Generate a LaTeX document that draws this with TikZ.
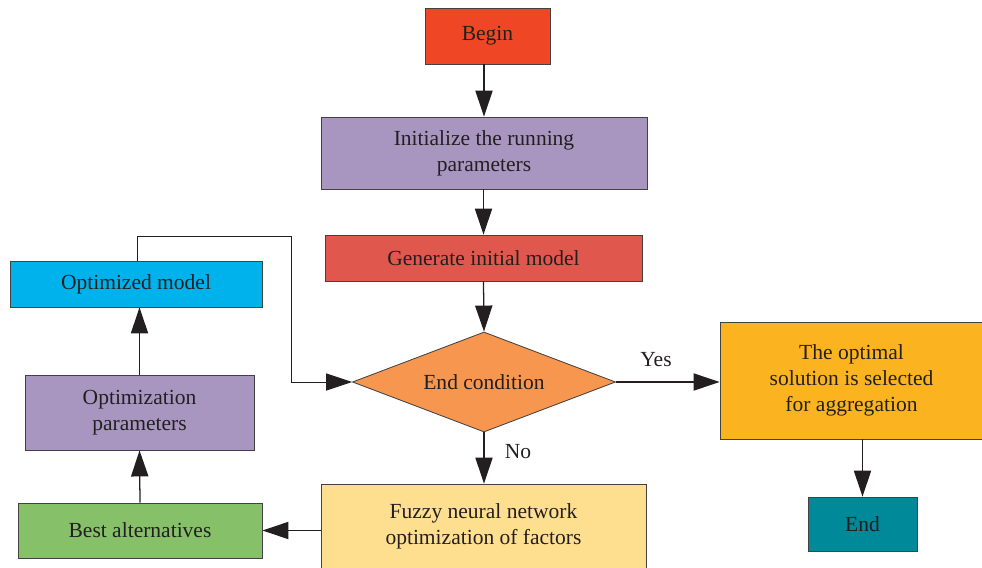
\documentclass[tikz,border=0pt]{standalone}
\usepackage{fontspec}
\setmainfont{Liberation Serif}
\usetikzlibrary{shapes.geometric,arrows.meta}
\definecolor{color1}{HTML}{EF4626}
\definecolor{color2}{HTML}{A896C0}
\definecolor{color3}{HTML}{E0574D}
\definecolor{color4}{HTML}{F7964F}
\definecolor{color5}{HTML}{FBB41F}
\definecolor{color6}{HTML}{008A99}
\definecolor{color7}{HTML}{FEDF90}
\definecolor{color8}{HTML}{86C16A}
\definecolor{color9}{HTML}{00B2EB}
\definecolor{ink}{HTML}{231F20}

\begin{document}
\begin{tikzpicture}[x=0.025cm,y=-0.025cm,
  box/.style={draw=ink!85,line width=0.6pt,text=ink,align=center,font=\fontsize{15.3}{18.4}\selectfont},
  arr/.style={draw=ink,line width=0.9pt,-{Triangle[length=0.65cm,width=0.43cm]}}]
\useasboundingbox (0,0) rectangle (982,567);

\node[box,fill=color1,minimum width=3.125cm,minimum height=1.4cm] (begin) at (487.5,36) {Begin};
\node[box,fill=color2,minimum width=8.15cm,minimum height=1.8cm] (init) at (484,153) {Initialize the running\\parameters};
\node[box,fill=color3,minimum width=7.925cm,minimum height=1.15cm] (gen) at (483.5,258) {Generate initial model};
\node[box,diamond,fill=color4,inner sep=0pt,aspect=2.6,minimum width=6.575cm,minimum height=2.5cm] (cond) at (484,382) {End condition};
\node[box,fill=color5,minimum width=6.575cm,minimum height=2.925cm] (opt) at (851.5,380.5) {The optimal\\solution is selected\\for aggregation};
\node[box,fill=color6,minimum width=2.725cm,minimum height=1.35cm] (end) at (862.5,524) {End};
\node[box,fill=color7,minimum width=8.125cm,minimum height=2.1cm] (fuzzy) at (483.5,526) {Fuzzy neural network\\optimization of factors};
\node[box,fill=color8,minimum width=6.1cm,minimum height=1.375cm] (best) at (140,530.5) {Best alternatives};
\node[box,fill=color2,minimum width=5.725cm,minimum height=1.875cm] (params) at (139.5,412.5) {Optimization\\parameters};
\node[box,fill=color9,minimum width=6.3cm,minimum height=1.15cm] (optmodel) at (136,284) {Optimized model};

\node[box,draw=none] (yes) at (656,360) {Yes};
\node[box,draw=none] (no) at (518,452) {No};

\draw[arr] (init.north |- begin.south) -- (init.north);
\draw[arr] (gen.north |- init.south) -- (gen.north);
\draw[arr] (gen.south) -- (cond.north);
\draw[arr] (cond.east) -- (cond.east -| opt.west);
\draw[arr] (end.north |- opt.south) -- (end.north);
\draw[arr] (cond.south) -- (cond.south |- fuzzy.north);
\draw[arr] (fuzzy.west |- best.east) -- (best.east);
\draw[arr] (best.north) -- (params.south);
\draw[arr] (params.north) -- (params.north |- optmodel.south);

% loop back to the condition
\coordinate (c1) at (137,236);
\coordinate (c2) at (291,236);
\draw[arr,line width=0.7pt] (c1 |- optmodel.north) -- (c1) -- (c2) |- (cond.west);
\end{tikzpicture}
\end{document}
